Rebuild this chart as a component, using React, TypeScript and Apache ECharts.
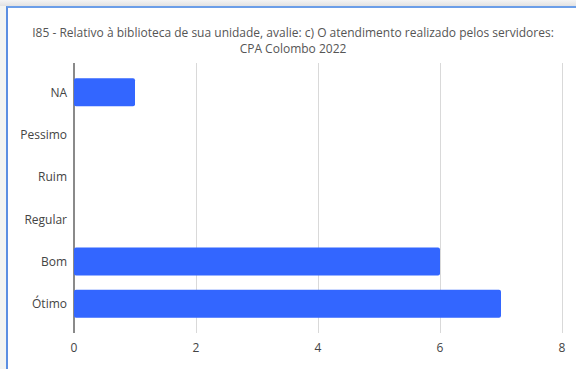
import React, { useEffect, useRef } from "react";
import * as echarts from "echarts";

const titleLines = [
  "I85 - Relativo à biblioteca de sua unidade, avalie: c) O atendimento realizado pelos servidores:",
  "CPA Colombo 2022",
];
const categories = ["Ótimo", "Bom", "Regular", "Ruim", "Pessimo", "NA"];
const values = [7, 6, 0, 0, 0, 1];
const xMin = 0;
const xMax = 8;
const xInterval = 2;

const FONT = "'Open Sans', 'Noto Sans', sans-serif";

export default function App() {
  const ref = useRef<HTMLDivElement>(null);
  useEffect(() => {
    if (!ref.current) return;
    const chart = echarts.init(ref.current, undefined, { renderer: "svg" });
    const tickAxisBase = {
      type: "value" as const,
      min: xMin,
      max: xMax,
      interval: xInterval,
      splitLine: { show: false },
      axisLine: { show: false },
      axisLabel: { show: false },
    };
    const titleStyle = {
      fontFamily: FONT,
      fontSize: 12,
      lineHeight: 13,
      fontWeight: "normal" as const,
      color: "#555555",
    };
    chart.setOption({
      animation: false,
      backgroundColor: "#ffffff",
      title: titleLines.map((t, i) => ({
        text: t,
        left: 285,
        textAlign: "center",
        top: 18 + i * 16,
        padding: 0,
        textStyle: titleStyle,
      })),
      grid: { left: 66, right: 14, top: 63, bottom: 44, containLabel: false },
      xAxis: [
        {
          type: "value",
          min: xMin,
          max: xMax,
          interval: xInterval,
          position: "bottom",
          axisLine: { show: false },
          axisTick: {
            show: true,
            length: 8,
            customValues: [2, 4, 6, 8],
            lineStyle: { color: "#d9d9d9", width: 1 },
          },
          axisLabel: {
            margin: 16,
            fontFamily: FONT,
            fontSize: 12,
            color: "#444444",
          },
          splitLine: { show: true, lineStyle: { color: "#d9d9d9", width: 1 } },
        },
        {
          ...tickAxisBase,
          position: "top",
          axisTick: {
            show: true,
            length: 8,
            customValues: [2, 4, 6, 8],
            lineStyle: { color: "#d9d9d9", width: 1 },
          },
        },
        {
          ...tickAxisBase,
          position: "bottom",
          axisTick: {
            show: true,
            length: 8,
            customValues: [0],
            lineStyle: { color: "#8a8a8a", width: 2 },
          },
        },
        {
          ...tickAxisBase,
          position: "top",
          axisTick: {
            show: true,
            length: 8,
            customValues: [0],
            lineStyle: { color: "#8a8a8a", width: 2 },
          },
        },
      ],
      yAxis: {
        type: "category",
        data: categories,
        axisLine: { show: true, lineStyle: { color: "#8a8a8a", width: 2 } },
        axisTick: { show: false },
        axisLabel: {
          margin: 7,
          fontFamily: FONT,
          fontSize: 12,
          color: "#444444",
        },
        splitLine: { show: false },
      },
      series: [
        {
          type: "bar",
          data: values,
          xAxisIndex: 0,
          barWidth: 28,
          itemStyle: { color: "#3366ff", borderRadius: 2 },
        },
      ],
    });
    return () => chart.dispose();
  }, []);

  return (
    <div
      style={{
        position: "fixed",
        left: 0,
        top: 0,
        width: 576,
        height: 369,
        background: "#f2f4f2",
        overflow: "hidden",
      }}
    >
      <div
        style={{
          position: "absolute",
          left: 0,
          top: 0,
          width: 576,
          height: 6,
          background: "linear-gradient(#f4f4f4, #e2e2e2)",
        }}
      />
      <div
        style={{
          position: "absolute",
          left: 6,
          top: 6,
          width: 570,
          height: 363,
          borderTop: "2px solid #6b9ee8",
          borderLeft: "2px solid #5b8fe2",
          boxSizing: "border-box",
          background: "#ffffff",
        }}
      >
        <div ref={ref} style={{ width: 568, height: 361 }} />
      </div>
    </div>
  );
}
